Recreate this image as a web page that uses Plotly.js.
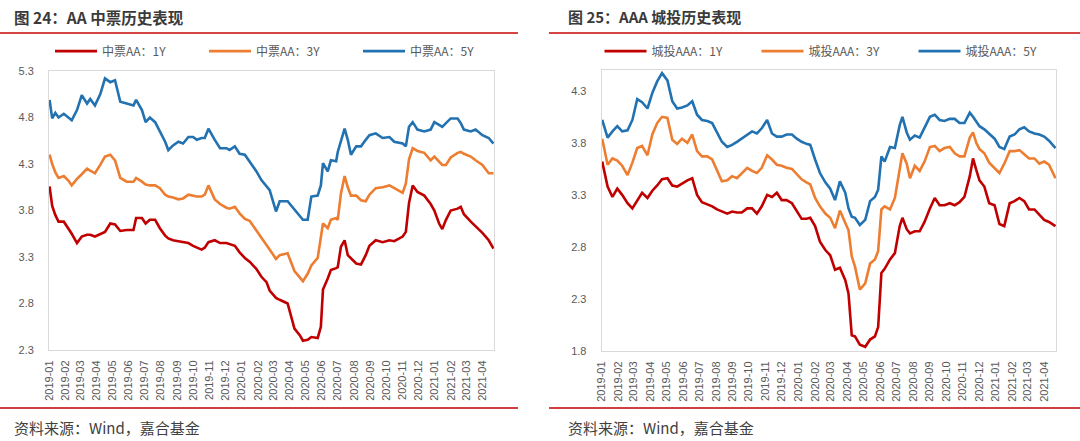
<!DOCTYPE html>
<html>
<head>
<meta charset="utf-8">
<script src="https://cdn.plot.ly/plotly-3.0.1.min.js"></script>
<style>
html,body{margin:0;padding:0;background:#fff;}
#chart{width:1080px;height:441px;}
</style>
</head>
<body>
<div id="chart"></div>
<script>
// ---------- tick labels ----------
const monthTicks = ['2019-01','2019-02','2019-03','2019-04','2019-05','2019-06','2019-07','2019-08','2019-09','2019-10','2019-11','2019-12',
  '2020-01','2020-02','2020-03','2020-04','2020-05','2020-06','2020-07','2020-08','2020-09','2020-10','2020-11','2020-12',
  '2021-01','2021-02','2021-03','2021-04'];

// ---------- left panel: 中票AA ----------
const mtnDates = ['2019-01-02','2019-01-07','2019-01-13','2019-01-19','2019-01-29','2019-02-07','2019-02-13','2019-02-23','2019-03-04','2019-03-14',
  '2019-03-20','2019-03-29','2019-04-08','2019-04-17','2019-04-27','2019-05-06','2019-05-16','2019-05-28','2019-06-10','2019-06-15',
  '2019-06-26','2019-07-03','2019-07-11','2019-07-21','2019-07-30','2019-08-09','2019-08-15','2019-08-24','2019-09-03','2019-09-12',
  '2019-09-22','2019-10-01','2019-10-08','2019-10-17','2019-10-23','2019-10-30','2019-11-11','2019-11-21','2019-12-03','2019-12-09',
  '2019-12-19','2019-12-28','2020-01-07','2020-01-16','2020-01-29','2020-02-07','2020-02-17','2020-02-23',
  '2020-03-06','2020-03-13','2020-03-28','2020-04-10','2020-04-20','2020-04-26','2020-05-05','2020-05-12','2020-05-24','2020-05-30',
  '2020-06-03','2020-06-12','2020-06-18','2020-06-28','2020-07-01','2020-07-07','2020-07-14','2020-07-20','2020-07-26','2020-08-05',
  '2020-08-14','2020-08-23','2020-08-30','2020-09-11','2020-09-24','2020-10-07','2020-10-16','2020-11-01','2020-11-07','2020-11-13',
  '2020-11-20','2020-11-29','2020-12-12','2020-12-24','2020-12-31','2021-01-09','2021-01-15','2021-01-22','2021-01-31','2021-02-13',
  '2021-02-19','2021-02-25','2021-03-10','2021-03-19','2021-04-01','2021-04-13','2021-04-22'];
const mtn1Y = [4.06,3.85,3.75,3.68,3.68,3.61,3.55,3.45,3.52,3.54, 3.54,3.52,3.55,3.57,3.66,3.65,3.58,3.59,3.59,3.72,
  3.72,3.66,3.70,3.70,3.61,3.53,3.50,3.48,3.47,3.46, 3.45,3.42,3.40,3.38,3.40,3.46,3.48,3.45,3.45,3.44,
  3.42,3.35,3.29,3.25,3.17,3.09,3.03,2.94,
  2.86,2.84,2.80,2.53,2.46,2.40,2.41,2.44,2.43,2.55, 2.95,3.07,3.16,3.18,3.19,3.41,3.48,3.32,3.29,3.23,
  3.22,3.32,3.42,3.48,3.46,3.48,3.47,3.52,3.57,3.88, 4.07,4.00,3.96,3.87,3.80,3.66,3.60,3.70,3.80,3.82,
  3.84,3.76,3.68,3.63,3.56,3.48,3.39];
const mtn3Y = [4.40,4.30,4.21,4.15,4.17,4.12,4.07,4.14,4.19,4.25, 4.23,4.20,4.29,4.38,4.40,4.34,4.15,4.11,4.11,4.15,
  4.11,4.08,4.07,4.07,4.04,3.97,3.95,3.94,3.92,3.93, 3.97,3.96,3.95,3.95,3.97,4.07,3.92,3.87,3.83,3.82,
  3.84,3.77,3.71,3.69,3.59,3.51,3.43,3.38,
  3.28,3.32,3.34,3.15,3.08,3.04,3.12,3.21,3.29,3.50, 3.66,3.61,3.70,3.72,3.70,3.98,4.17,4.05,3.96,3.96,
  3.91,3.90,3.97,4.04,4.05,4.07,4.04,3.99,4.09,4.35, 4.47,4.44,4.42,4.34,4.38,4.33,4.29,4.29,4.37,4.42,
  4.43,4.41,4.38,4.34,4.29,4.20,4.20];
const mtn5Y = [4.99,4.79,4.85,4.80,4.84,4.80,4.77,4.88,5.04,4.95, 5.00,4.93,5.05,5.22,5.18,5.20,4.97,4.95,4.93,4.99,
  4.88,4.75,4.80,4.75,4.65,4.54,4.45,4.50,4.54,4.52, 4.59,4.59,4.56,4.58,4.58,4.68,4.56,4.47,4.47,4.45,
  4.49,4.41,4.40,4.33,4.22,4.13,4.06,4.02,
  3.79,3.90,3.90,3.81,3.75,3.70,3.70,3.95,3.96,4.07, 4.31,4.22,4.34,4.33,4.43,4.56,4.68,4.56,4.40,4.49,
  4.49,4.56,4.61,4.63,4.58,4.59,4.54,4.52,4.49,4.70, 4.75,4.67,4.65,4.67,4.75,4.72,4.70,4.74,4.79,4.79,
  4.74,4.67,4.65,4.67,4.61,4.58,4.52];

// ---------- right panel: 城投AAA ----------
const ctDates = ['2019-01-02','2019-01-12','2019-01-21','2019-01-30','2019-02-08','2019-02-18','2019-02-27','2019-03-08','2019-03-17','2019-03-27',
  '2019-04-05','2019-04-14','2019-04-23','2019-05-03','2019-05-12','2019-05-21','2019-05-30','2019-06-09','2019-06-18','2019-06-27',
  '2019-07-06','2019-07-16','2019-07-25','2019-08-03','2019-08-12','2019-08-22','2019-08-31','2019-09-09','2019-09-18','2019-09-28',
  '2019-10-07','2019-10-16','2019-10-25','2019-11-04','2019-11-13','2019-11-22','2019-12-01','2019-12-10','2019-12-20','2019-12-29',
  '2020-01-07','2020-01-16','2020-01-23',
  '2020-02-01','2020-02-10','2020-02-20','2020-02-29','2020-03-09','2020-03-18','2020-03-28','2020-04-03','2020-04-09','2020-04-15',
  '2020-04-24','2020-05-04','2020-05-13','2020-05-22','2020-05-28','2020-06-03','2020-06-09','2020-06-19','2020-06-28','2020-07-07',
  '2020-07-12','2020-07-20','2020-07-26','2020-08-04','2020-08-13','2020-08-22','2020-09-01','2020-09-10','2020-09-19','2020-09-28',
  '2020-10-08','2020-10-17','2020-10-26','2020-11-04','2020-11-14','2020-11-20','2020-11-26','2020-12-02','2020-12-11','2020-12-20',
  '2020-12-30','2021-01-08','2021-01-17','2021-01-27','2021-02-05','2021-02-14','2021-02-23','2021-03-04','2021-03-14','2021-03-23',
  '2021-04-01','2021-04-10','2021-04-22'];
const ct1Y = [3.62,3.38,3.28,3.36,3.30,3.22,3.17,3.25,3.32,3.27, 3.34,3.39,3.45,3.46,3.39,3.38,3.41,3.44,3.46,3.30,
  3.23,3.21,3.19,3.16,3.14,3.12,3.14,3.13,3.13,3.17, 3.17,3.12,3.19,3.30,3.28,3.32,3.25,3.25,3.22,3.14,
  3.07,3.07,3.08,
  3.00,2.85,2.77,2.72,2.58,2.60,2.48,2.35,1.95,1.94, 1.86,1.84,1.91,1.94,2.03,2.55,2.59,2.68,2.74,3.00,
  3.08,2.97,2.93,2.95,2.95,3.04,3.17,3.27,3.20,3.20, 3.22,3.20,3.23,3.28,3.48,3.65,3.54,3.44,3.38,3.22,
  3.20,3.02,3.00,3.22,3.24,3.27,3.24,3.16,3.16,3.11, 3.06,3.04,3.00];
const ct3Y = [3.84,3.59,3.65,3.63,3.58,3.49,3.61,3.75,3.77,3.68, 3.88,3.99,4.05,4.04,3.83,3.79,3.84,3.80,3.88,3.72,
  3.67,3.67,3.64,3.54,3.43,3.44,3.48,3.46,3.51,3.56, 3.53,3.51,3.56,3.68,3.64,3.59,3.58,3.56,3.55,3.50,
  3.45,3.42,3.40,
  3.27,3.19,3.12,3.08,2.98,3.15,3.03,2.96,2.71,2.61, 2.39,2.45,2.64,2.68,2.76,3.16,3.19,3.16,3.27,3.54,
  3.70,3.60,3.46,3.58,3.53,3.62,3.76,3.77,3.72,3.75, 3.76,3.70,3.67,3.67,3.85,3.90,3.80,3.74,3.70,3.61,
  3.56,3.51,3.60,3.72,3.72,3.73,3.69,3.65,3.65,3.60, 3.62,3.59,3.46];
const ct5Y = [4.02,3.85,3.91,3.96,3.91,3.92,4.02,4.22,4.19,4.13, 4.28,4.39,4.47,4.40,4.20,4.13,4.14,4.16,4.20,4.07,
  4.02,4.01,3.99,3.90,3.81,3.76,3.78,3.81,3.84,3.88, 3.91,3.89,3.94,4.02,3.89,3.86,3.86,3.88,3.88,3.84,
  3.81,3.79,3.78,
  3.64,3.51,3.42,3.36,3.25,3.43,3.32,3.17,3.09,3.08, 3.01,3.06,3.24,3.28,3.35,3.67,3.62,3.76,3.75,3.97,
  4.05,3.90,3.83,3.87,3.85,3.94,4.05,4.07,4.02,4.01, 4.03,4.03,3.99,3.99,4.09,4.05,4.00,3.96,3.93,3.89,
  3.84,3.76,3.74,3.86,3.88,3.93,3.95,3.91,3.89,3.88, 3.86,3.82,3.75];

const leftNames = ['中票AA：1Y','中票AA：3Y','中票AA：5Y'];
const rightNames = ['城投AAA：1Y','城投AAA：3Y','城投AAA：5Y'];
const colors = ['#C00000','#ED7D31','#2271B1'];

const tickVals = monthTicks.map(m => m + '-01');
const CJK = '"Noto Sans CJK SC", "Noto Sans", sans-serif';
const NUM = '"Liberation Sans", Arial, sans-serif';

function tr(x, y, name, color, xa, ya, lg) {
  return {type:'scatter', mode:'lines', x:x, y:y, name:name, xaxis:xa, yaxis:ya, legend:lg,
    line:{color:color, width:2.6}, hoverinfo:'skip'};
}

const data = [
  tr(mtnDates, mtn1Y, leftNames[0], colors[0], 'x', 'y', 'legend'),
  tr(mtnDates, mtn3Y, leftNames[1], colors[1], 'x', 'y', 'legend'),
  tr(mtnDates, mtn5Y, leftNames[2], colors[2], 'x', 'y', 'legend'),
  tr(ctDates, ct1Y, rightNames[0], colors[0], 'x2', 'y2', 'legend2'),
  tr(ctDates, ct3Y, rightNames[1], colors[1], 'x2', 'y2', 'legend2'),
  tr(ctDates, ct5Y, rightNames[2], colors[2], 'x2', 'y2', 'legend2')
];

function xAxis(domain, anchor) {
  return {domain:domain, anchor:anchor, type:'date', range:['2019-01-01', '2021-04-23'],
    tickmode:'array', tickvals:tickVals, ticktext:monthTicks, tickangle:-90,
    tickfont:{family:NUM, size:11, color:'#595959'}, ticks:'', ticklabelstandoff:5,
    showgrid:false, zeroline:false, showline:true, mirror:true, linecolor:'#d9d9d9', linewidth:1};
}
function yAxis(domain, anchor, range) {
  return {domain:domain, anchor:anchor, range:range, tick0:range[0], dtick:0.5, tickformat:'.1f',
    tickfont:{family:NUM, size:11, color:'#595959'}, ticks:'', ticklabelstandoff:12,
    showgrid:false, zeroline:false, showline:true, mirror:true, linecolor:'#d9d9d9', linewidth:1};
}
function legendCfg(x, ew) {
  return {orientation:'h', x:x, xanchor:'left', y:0.884, yanchor:'middle',
    entrywidth:ew, entrywidthmode:'pixels', itemwidth:42, tracegroupgap:0,
    bgcolor:'rgba(0,0,0,0)', font:{family:CJK, size:12, color:'#595959'}};
}

const layout = {
  width:1080, height:441, margin:{l:0,r:0,t:0,b:0},
  paper_bgcolor:'#ffffff', plot_bgcolor:'#ffffff', showlegend:true,
  xaxis: xAxis([0.0454, 0.4574], 'y'),
  yaxis: yAxis([0.2063, 0.839], 'x', [2.3, 5.3]),
  xaxis2: xAxis([0.5571, 0.9778], 'y2'),
  yaxis2: yAxis([0.2041, 0.8413], 'x2', [1.8, 4.5]),
  legend: legendCfg(0.0463, 97),
  legend2: legendCfg(0.5551, 100),
  shapes: [
    {type:'line', xref:'paper', yref:'paper', x0:0, x1:0.4796, y0:0.925, y1:0.925, line:{color:'#D64545', width:2}},
    {type:'line', xref:'paper', yref:'paper', x0:0.5083, x1:1, y0:0.925, y1:0.925, line:{color:'#D64545', width:2}},
    {type:'line', xref:'paper', yref:'paper', x0:0, x1:0.4796, y0:0.0748, y1:0.0748, line:{color:'#C00000', width:1.5}},
    {type:'line', xref:'paper', yref:'paper', x0:0.5083, x1:1, y0:0.0748, y1:0.0748, line:{color:'#C00000', width:1.5}}
  ],
  annotations: [
    {xref:'paper', yref:'paper', x:0.0111, y:0.9615, xanchor:'left', yanchor:'middle', showarrow:false,
     text:'<b>图 24：AA 中票历史表现</b>', font:{family:CJK, size:15.5, color:'#3a3a3a'}},
    {xref:'paper', yref:'paper', x:0.524, y:0.9615, xanchor:'left', yanchor:'middle', showarrow:false,
     text:'<b>图 25：AAA 城投历史表现</b>', font:{family:CJK, size:15, color:'#3a3a3a'}},
    {xref:'paper', yref:'paper', x:0.0111, y:0.0317, xanchor:'left', yanchor:'middle', showarrow:false,
     text:'资料来源：Wind，嘉合基金', font:{family:CJK, size:15, color:'#404040'}},
    {xref:'paper', yref:'paper', x:0.524, y:0.0317, xanchor:'left', yanchor:'middle', showarrow:false,
     text:'资料来源：Wind，嘉合基金', font:{family:CJK, size:15, color:'#404040'}}
  ]
};

Plotly.newPlot('chart', data, layout, {staticPlot:true, displayModeBar:false});
</script>
</body>
</html>
